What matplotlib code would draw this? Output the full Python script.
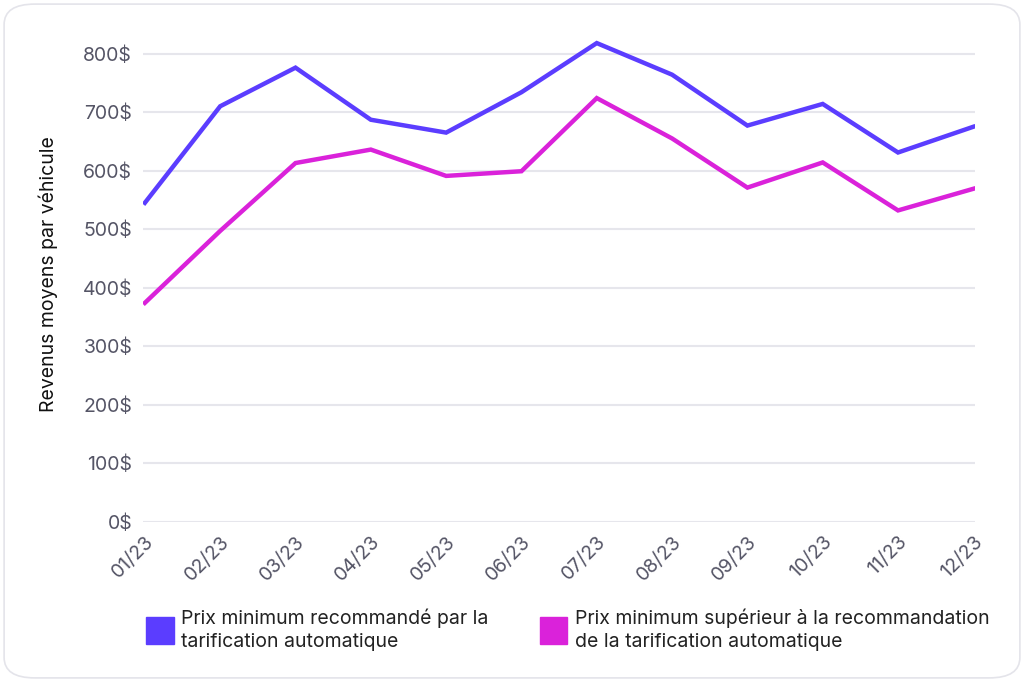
import matplotlib.pyplot as plt
from matplotlib.patches import FancyBboxPatch, Rectangle

plt.rcParams['font.family'] = ['Inter', 'DejaVu Sans']

months = ["01/23", "02/23", "03/23", "04/23", "05/23", "06/23",
          "07/23", "08/23", "09/23", "10/23", "11/23", "12/23"]
prix_reco = [545, 710, 776, 687, 665, 734, 818, 764, 677, 714, 631, 675]
prix_sup = [374, 497, 613, 636, 591, 599, 724, 655, 571, 614, 532, 569]
yticks = [0, 100, 200, 300, 400, 500, 600, 700, 800]
blue = "#5B3DFF"
pink = "#DA22DA"
grey = "#555566"

fig = plt.figure(figsize=(10.24, 6.82), dpi=100)
bg = FancyBboxPatch((0.004, 0.006), 0.992, 0.988, boxstyle="round,pad=0,rounding_size=0.03",
                    transform=fig.transFigure, facecolor="white", edgecolor="#e4e4ea", lw=1.2, zorder=-10)
fig.patches.append(bg)
ax = fig.add_axes([0.14, 0.235, 0.812, 0.725])
ax.patch.set_alpha(0)
x = range(len(months))
ax.plot(x, prix_reco, color=blue, lw=3.2, solid_joinstyle="miter")
ax.plot(x, prix_sup, color=pink, lw=3.2, solid_joinstyle="miter")
ax.set_ylim(0, 845)
ax.set_xlim(-0.02, 11.02)
ax.set_yticks(yticks)
ax.set_yticklabels([f"{v}$" for v in yticks], fontsize=14, color=grey)
ax.set_xticks(list(x))
ax.set_xticklabels(months, rotation=45, ha="right", rotation_mode="anchor", fontsize=14, color=grey)
ax.grid(axis="y", color="#e6e6ec", lw=1.5)
ax.set_axisbelow(True)
for s in ax.spines.values():
    s.set_visible(False)
ax.tick_params(length=0, pad=8)
ax.set_ylabel("Revenus moyens par véhicule", fontsize=14, color="#111111", labelpad=18)

fig.patches.append(Rectangle((0.143, 0.055), 0.027, 0.04, transform=fig.transFigure, color=blue))
fig.text(0.177, 0.077, "Prix minimum recommandé par la\ntarification automatique", fontsize=14,
         va="center", color="#222222", linespacing=1.35)
fig.patches.append(Rectangle((0.527, 0.055), 0.027, 0.04, transform=fig.transFigure, color=pink))
fig.text(0.562, 0.077, "Prix minimum supérieur à la recommandation\nde la tarification automatique", fontsize=14,
         va="center", color="#222222", linespacing=1.35)

fig.savefig("out.png", dpi=100)
